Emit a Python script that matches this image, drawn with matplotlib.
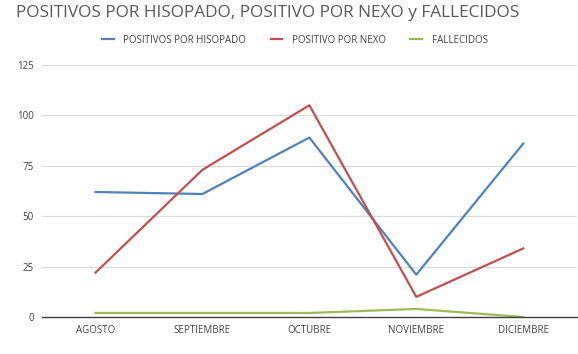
import matplotlib.pyplot as plt

months = ["AGOSTO", "SEPTIEMBRE", "OCTUBRE", "NOVIEMBRE", "DICIEMBRE"]
hisopado = [62, 61, 89, 21, 86]
nexo = [22, 73, 105, 10, 34]
fallecidos = [2, 2, 2, 4, 0]
y_ticks = [0, 25, 50, 75, 100, 125]

plt.rcParams["font.family"] = ["Open Sans", "DejaVu Sans"]

fig = plt.figure(figsize=(5.78, 3.54), dpi=100)
ax = fig.add_axes([0.0727, 0.1045, 0.925, 0.712])

x = range(len(months))
ax.plot(x, hisopado, color="#4F81BD", lw=1.6, label="POSITIVOS POR HISOPADO")
ax.plot(x, nexo, color="#C0504D", lw=1.6, label="POSITIVO POR NEXO")
ax.plot(x, fallecidos, color="#9BBB59", lw=1.6, label="FALLECIDOS")

ax.set_xlim(-0.5, len(months) - 0.5)
ax.set_ylim(0, 125)
ax.set_yticks(y_ticks)
ax.set_xticks(list(x))
ax.set_xticklabels(months)
ax.tick_params(axis="both", length=0, labelsize=7, colors="#404040", pad=6)
ax.grid(axis="y", color="#D9D9D9", lw=0.8)
ax.set_axisbelow(True)
for side in ["top", "right", "left"]:
    ax.spines[side].set_visible(False)
ax.spines["bottom"].set_color("#404040")
ax.spines["bottom"].set_linewidth(1)

fig.text(0.027, 0.962, "POSITIVOS POR HISOPADO, POSITIVO POR NEXO y FALLECIDOS",
         fontsize=12.4, color="#595959", va="center", ha="left")
fig.legend(loc="center", bbox_to_anchor=(0.51, 0.887), ncol=3, frameon=False,
           fontsize=7, handlelength=1.2, columnspacing=2.5, handletextpad=1.0,
           labelcolor="#404040")

fig.savefig("out.png", dpi=100)
